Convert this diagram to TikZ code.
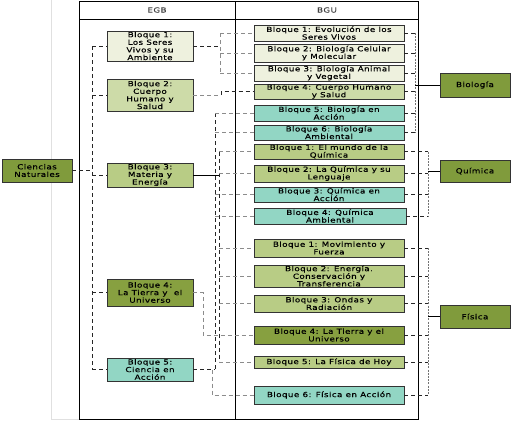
\documentclass[tikz,border=0pt]{standalone}
\usepackage{fontspec}
\setmainfont{DejaVu Sans}[FakeStretch=1.25,LetterSpace=6,FakeBold=0.4]
\definecolor{cLight}{RGB}{238,241,222}
\definecolor{cMid}{RGB}{205,219,168}
\definecolor{cGreen}{RGB}{184,204,133}
\definecolor{cDark}{RGB}{135,160,64}
\definecolor{cHead}{RGB}{128,155,60}
\definecolor{cTeal}{RGB}{146,214,196}
\begin{document}
\begin{tikzpicture}[x=1pt,y=-1pt,
  box/.style={draw=black!80,line width=0.8pt,align=center,inner sep=0pt,
    font=\fontsize{7}{7.6}\selectfont},
  egb/.style={box,minimum width=86pt},
  bgu/.style={box,minimum width=150pt},
  side/.style={box,minimum width=70pt},
  conn/.style={dashed,dash pattern=on 4pt off 3pt,line width=0.8pt,black!85},
  br/.style={dashed,dash pattern=on 4pt off 3pt,line width=0.8pt,black!45},
  rt/.style={dashed,dash pattern=on 2pt off 1.2pt,line width=0.6pt,black!55},
  sol/.style={line width=0.8pt,black}]
\useasboundingbox (0,0) rectangle (513,421);
\draw[black!12,line width=0.6pt] (51,0) -- (51,419) -- (79,419);
% table
\draw[line width=0.8pt] (79,1) rectangle (418,419);
\draw[line width=0.8pt] (79,19) -- (418,19);
\draw[line width=0.8pt] (235,1) -- (235,419);
\node[font=\fontsize{7}{7.6}\selectfont,text=black!75] (hE) at (157,10) {EGB};
\node[font=\fontsize{7}{7.6}\selectfont,text=black!75] (hB) at (327,10) {BGU};
% left
\node[side,fill=cHead,minimum height=23pt] (cn) at (37,170.5) {Ciencias\\Naturales};
% EGB
\node[egb,fill=cLight,minimum height=30pt] (e1) at (150,46) {Bloque 1:\\Los Seres\\Vivos y su\\Ambiente};
\node[egb,fill=cMid,minimum height=32pt] (e2) at (150,95) {Bloque 2:\\Cuerpo\\Humano y\\Salud};
\node[egb,fill=cGreen,minimum height=24pt] (e3) at (150,175) {Bloque 3:\\Materia y\\Energía};
\node[egb,fill=cDark,minimum height=27pt] (e4) at (150,292.5) {Bloque 4:\\La Tierra y\ \ el\\Universo};
\node[egb,fill=cTeal,minimum height=23pt] (e5) at (150,369.5) {Bloque 5:\\Ciencia en\\Acción};
% BGU biologia
\node[bgu,fill=cLight,minimum height=16pt] (b1) at (329,33) {Bloque 1: Evolución de los\\Seres Vivos};
\node[bgu,fill=cLight,minimum height=18pt] (b2) at (329,53) {Bloque 2: Biología Celular\\y Molecular};
\node[bgu,fill=cLight,minimum height=16pt] (b3) at (329,73) {Bloque 3: Biología Animal\\y Vegetal};
\node[bgu,fill=cMid,minimum height=15pt] (b4) at (329,91.5) {Bloque 4: Cuerpo Humano\\y Salud};
\node[bgu,fill=cTeal,minimum height=16pt] (b5) at (329,113) {Bloque 5: Biología en\\Acción};
\node[bgu,fill=cTeal,minimum height=15pt] (b6) at (329,132.5) {Bloque 6: Biología\\Ambiental};
% quimica
\node[bgu,fill=cGreen,minimum height=15pt] (q1) at (329,151.5) {Bloque 1: El mundo de la\\Química};
\node[bgu,fill=cGreen,minimum height=17pt] (q2) at (329,173.5) {Bloque 2: La Química y su\\Lenguaje};
\node[bgu,fill=cTeal,minimum height=15pt] (q3) at (329,194.5) {Bloque 3: Química en\\Acción};
\node[bgu,fill=cTeal,minimum height=16pt,minimum width=152pt] (q4) at (330,216) {Bloque 4: Química\\Ambiental};
% fisica
\node[bgu,fill=cGreen,minimum height=18pt] (f1) at (329,248) {Bloque 1: Movimiento y\\Fuerza};
\node[bgu,fill=cGreen,minimum height=22pt] (f2) at (329,276) {Bloque 2: Energía.\\Conservación y\\Transferencia};
\node[bgu,fill=cGreen,minimum height=17pt] (f3) at (329,303.5) {Bloque 3: Ondas y\\Radiación};
\node[bgu,fill=cDark,minimum height=18pt] (f4) at (329,335) {Bloque 4: La Tierra y el\\Universo};
\node[bgu,fill=cGreen,minimum height=12pt] (f5) at (329,362) {Bloque 5: La Física de Hoy};
\node[bgu,fill=cTeal,minimum height=18pt] (f6) at (329,395) {Bloque 6: Física en Acción};
% right
\node[side,fill=cHead,minimum height=24pt] (rb) at (475,85) {Biología};
\node[side,fill=cHead,minimum height=22pt] (rq) at (475,171) {Química};
\node[side,fill=cHead,minimum height=23pt] (rf) at (475,316.5) {Física};
% trunk coordinates
\coordinate (tL) at (92,0);
\coordinate (tA) at (220,0);
\coordinate (tB) at (221,0);
\coordinate (tC) at (215,0);
\coordinate (tD) at (212,0);
\coordinate (tE) at (219,0);
\coordinate (tF) at (203,0);
\coordinate (tR1) at (415,0);
\coordinate (tR2) at (428,0);
% left connectors
\draw[conn] (cn.east) -- (cn.east -| tL);
\draw[conn] (e1.west -| tL) -- (e5.west -| tL);
\foreach \n in {e1,e2,e3,e4,e5} \draw[conn] (\n.west -| tL) -- (\n.west);
% e1 -> b1..b3
\draw[conn] (e1.east) -- (e1.east -| tA);
\draw[br] (b1.west -| tA) -- (b3.west -| tA);
\foreach \n in {b1,b2,b3} \draw[br] (\n.west -| tA) -- (\n.west);
% e2 -> b4
\draw[br] (e2.east) -- (e2.east -| tB);
\draw[conn] (e2.east -| tB) -- (b4.west -| tB) -- (b4.west);
% e5 teal
\draw[conn] (e5.east) -- (e5.east -| tC);
\draw[conn] (b5.west -| tC) -- (e5.east -| tC);
\foreach \n in {b5,b6,q3,q4} \draw[br] (\n.west -| tC) -- (\n.west);
\draw[br] (e5.east -| tD) -- (f6.west -| tD) -- (f6.west);
% e3 green
\draw[sol] (e3.east) -- (e3.east -| tE);
\draw[conn] (q1.west -| tE) -- (f5.west -| tE);
\foreach \n in {q1,q2,f1,f2,f3,f5} \draw[br] (\n.west -| tE) -- (\n.west);
% e4 dark
\draw[br] (e4.east) -- (e4.east -| tF) -- (f4.west -| tF) -- (f4.west);
% right side
\foreach \n in {b1,b2,b3,b4,b5,b6} \draw[conn] (\n.east) -- (\n.east -| tR1);
\draw[rt] (b1.east -| tR1) -- (b6.east -| tR1);
\draw[sol] (rb.west -| tR1) -- (rb.west);
\foreach \n in {q1,q2,q3,q4} \draw[conn] (\n.east) -- (\n.east -| tR2);
\draw[rt] (q1.east -| tR2) -- (q4.east -| tR2);
\draw[sol] (rq.west -| tR2) -- (rq.west);
\foreach \n in {f1,f2,f3,f4,f5,f6} \draw[conn] (\n.east) -- (\n.east -| tR2);
\draw[rt] (f1.east -| tR2) -- (f6.east -| tR2);
\draw[sol] (rf.west -| tR2) -- (rf.west);
\end{tikzpicture}
\end{document}
